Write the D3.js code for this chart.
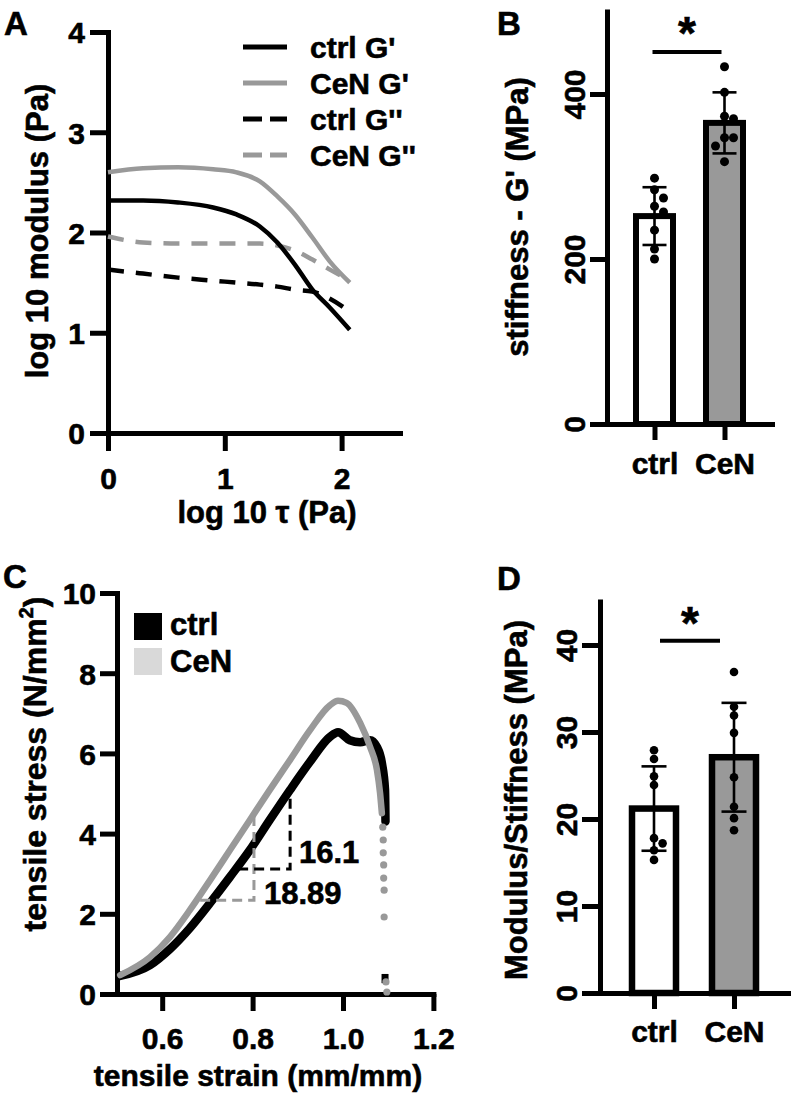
<!DOCTYPE html>
<html><head><meta charset="utf-8">
<script src="https://cdn.jsdelivr.net/npm/d3@7"></script>
<style>
body{margin:0;background:#fff}
svg{display:block}
</style></head><body>
<svg id="fig" width="792" height="1103"></svg>
<script>
// ---------------- DATA ----------------
// Panel A: rheology (log10 tau vs log10 modulus)
const tauA      = [0, 0.3, 0.6, 0.9, 1.1, 1.3, 1.45, 1.6, 1.75, 1.9, 2.07];
const ctrlGp    = [2.32, 2.32, 2.30, 2.25, 2.18, 2.06, 1.90, 1.68, 1.43, 1.25, 1.03];
const cenGp     = [2.60, 2.64, 2.65, 2.63, 2.60, 2.51, 2.36, 2.18, 1.95, 1.71, 1.50];
const ctrlGpp   = [1.63, 1.59, 1.55, 1.52, 1.50, 1.48, 1.46, 1.43, 1.41, 1.34, 1.21];
const cenGpp    = [1.96, 1.90, 1.89, 1.89, 1.89, 1.89, 1.87, 1.82, 1.73, 1.63, 1.52];
const seriesA   = ["ctrl G'", "CeN G'", "ctrl G''", "CeN G''"];
const ticksAy   = [0, 1, 2, 3, 4];
const ticksAx   = [0, 1, 2];

// Panel B: stiffness G' (MPa)
const cats      = ["ctrl", "CeN"];
const bMeans    = [252, 365];
const bSD       = [35, 37];
const bCtrlPts  = [298, 284, 274, 264, 257, 235, 212, 200];
const bCeNPts   = [433, 402, 373, 370, 347, 347, 337, 318];
const ticksBy   = [0, 200, 400];
const sigB      = 451;

// Panel C: tensile stress-strain
const ctrlStrain = [0.507, 0.573, 0.617, 0.661, 0.706, 0.75, 0.794, 0.838, 0.883, 0.927, 0.971, 0.989, 1.015, 1.038, 1.06, 1.075, 1.086, 1.093, 1.094];
const ctrlStress = [0.45, 0.72, 1.12, 1.64, 2.27, 2.92, 3.59, 4.34, 5.09, 5.79, 6.41, 6.53, 6.33, 6.28, 6.33, 6.16, 5.76, 5.09, 4.30];
const ctrlTailStrain = [1.093, 1.093];
const ctrlTailStress = [0.50, 0.27];
const cenStrain = [0.507, 0.573, 0.617, 0.661, 0.706, 0.75, 0.794, 0.838, 0.883, 0.927, 0.971, 0.989, 1.008, 1.038, 1.06, 1.075, 1.082, 1.086];
const cenStress = [0.47, 0.92, 1.42, 2.09, 2.84, 3.59, 4.34, 5.09, 5.84, 6.58, 7.20, 7.31, 7.26, 6.76, 6.16, 5.59, 5.01, 4.51];
const cenTailStrain = [1.088, 1.089, 1.089, 1.090, 1.090, 1.091, 1.091, 1.095, 1.097];
const cenTailStress = [4.16, 3.84, 3.52, 3.22, 2.89, 2.59, 1.92, 0.30, 0.05];
const slopeStrainCtrl = [0.768, 0.883];   // horizontal / vertical legs of slope triangle
const slopeStressCtrl = [3.12, 5.09];
const slopeStrainCeN  = [0.684, 0.803];
const slopeStressCeN  = [2.34, 4.46];
const slopeLabels     = ["16.1", "18.89"];
const ticksCx = [0.6, 0.8, 1.0, 1.2];
const ticksCy = [0, 2, 4, 6, 8, 10];

// Panel D: Modulus/Stiffness (MPa)
const dMeans   = [21.2, 27.1];
const dSD      = [4.85, 6.25];
const dCtrlPts = [27.9, 26.9, 24.9, 23.9, 17.8, 17.2, 16.4, 15.3];
const dCeNPts  = [36.9, 32.9, 31.9, 29.9, 24.8, 21.4, 20.1, 18.7];
const ticksDy  = [0, 10, 20, 30, 40];
const sigD     = 40.5;

// ---------------- DRAWING ----------------
const F = '"Liberation Sans", Arial, Helvetica, sans-serif';
const GRAY = "#999999";
const TS = 0.6; // text stroke to mimic heavy bold
const svg = d3.select("#fig");
svg.append("rect").attr("width",792).attr("height",1103).attr("fill","#fff");

function styleAxis(g, fs){
  g.attr("font-family", F).attr("font-size", fs).attr("font-weight","bold");
  g.select(".domain").attr("stroke","#000").attr("stroke-width",5).attr("stroke-linecap","square");
  g.selectAll(".tick line").attr("stroke","#000").attr("stroke-width",5);
  g.selectAll(".tick text").attr("fill","#000").attr("stroke","#000").attr("stroke-width",TS);
}
function txt(x, y, s, fs, anchor){
  return svg.append("text").attr("x",x).attr("y",y).attr("font-family",F).attr("font-weight","bold")
    .attr("font-size",fs).attr("text-anchor",anchor||"start").attr("fill","#000")
    .attr("stroke","#000").attr("stroke-width",TS).text(s);
}
function vlabel(x, y, s, fs){
  return svg.append("text").attr("transform",`translate(${x},${y}) rotate(-90)`).attr("font-family",F)
    .attr("font-weight","bold").attr("font-size",fs).attr("text-anchor","middle").attr("fill","#000")
    .attr("stroke","#000").attr("stroke-width",TS).text(s);
}
function swarm(vals, yS, r){
  const d = 2*r, placed = [], out = new Array(vals.length);
  const order = vals.map((v,i)=>i).sort((a,b)=>vals[b]-vals[a]);
  for (const i of order){
    const y = yS(vals[i]);
    for (const k of [0,1,-1,2,-2,3,-3]){
      const x = k*d;
      if (placed.every(p=>Math.hypot(p.x-x,p.y-y) >= d*0.95)){ out[i]={x,y}; placed.push({x,y}); break; }
    }
  }
  return out;
}

// Panel letters
txt(4, 35, "A", 33); txt(497, 35, "B", 33); txt(3, 588, "C", 33); txt(497, 590, "D", 33);

// ===== Panel A =====
const xA = d3.scaleLinear().domain([0,2.5]).range([108,400]);
const yA = d3.scaleLinear().domain([0,4]).range([433,32]);
const gAy = svg.append("g").attr("transform","translate(108,0)")
  .call(d3.axisLeft(yA).tickValues(ticksAy).tickSize(18).tickSizeOuter(0).tickPadding(5).tickFormat(d3.format("d")));
styleAxis(gAy, 30);
gAy.selectAll(".tick text").attr("dy", "0.36em");
const gAx = svg.append("g").attr("transform","translate(0,433)")
  .call(d3.axisBottom(xA).tickValues(ticksAx).tickSize(18).tickSizeOuter(0).tickPadding(17).tickFormat(d3.format("d")));
styleAxis(gAx, 30);
vlabel(48, 231, "log 10 modulus (Pa)", 31);
txt(267, 523, "log 10 τ (Pa)", 31, "middle");

const lineA = d3.line().x((d,i)=>xA(tauA[i])).y(d=>yA(d)).curve(d3.curveMonotoneX);
const aSeries = [
  {vals: cenGpp, color: GRAY, dash: "16,12"},
  {vals: ctrlGpp, color: "#000", dash: "16,12"},
  {vals: cenGp, color: GRAY, dash: null},
  {vals: ctrlGp, color: "#000", dash: null}
];
aSeries.forEach(s=>{
  svg.append("path").attr("d", lineA(s.vals)).attr("fill","none").attr("stroke", s.color)
    .attr("stroke-width", 4.5).attr("stroke-dasharray", s.dash);
});
const legA = [
  {name: seriesA[0], color:"#000", dash:null},
  {name: seriesA[1], color:GRAY, dash:null},
  {name: seriesA[2], color:"#000", dash:"19,8"},
  {name: seriesA[3], color:GRAY, dash:"19,8"}
];
legA.forEach((l,i)=>{
  const y = 47 + 36*i;
  svg.append("line").attr("x1",243).attr("x2",287).attr("y1",y).attr("y2",y)
    .attr("stroke",l.color).attr("stroke-width",5).attr("stroke-dasharray",l.dash);
  txt(310, y+11, l.name, 30);
});

// ===== Bar panels =====
function barPanel(opt){
  const x = d3.scalePoint().domain(cats).range([opt.x0, opt.x1]).padding(opt.pad);
  const y = d3.scaleLinear().domain([0, opt.ymax]).range([opt.y0, opt.ytop]);
  const gy = svg.append("g").attr("transform",`translate(${opt.x0},0)`)
    .call(d3.axisLeft(y).tickValues(opt.ticks).tickSize(opt.tick).tickSizeOuter(0).tickFormat(d3.format("d")));
  styleAxis(gy, 30);
  gy.selectAll(".tick text").attr("x", null).attr("dy", null).attr("text-anchor","middle")
    .attr("transform", `translate(${-opt.tick-opt.lblGap},0) rotate(-90)`);
  const gx = svg.append("g").attr("transform",`translate(0,${opt.y0})`)
    .call(d3.axisBottom(x).tickSize(16).tickSizeOuter(0).tickPadding(opt.xPad));
  styleAxis(gx, 30);
  cats.forEach((c,i)=>{
    const cx = x(c);
    svg.append("rect").attr("x", cx-opt.bw/2).attr("y", y(opt.means[i])).attr("width", opt.bw)
      .attr("height", y(0)-y(opt.means[i])).attr("fill", i===0 ? "#fff" : GRAY)
      .attr("stroke","#000").attr("stroke-width", opt.bs);
    const lo = y(opt.means[i]-opt.sd[i]), hi = y(opt.means[i]+opt.sd[i]);
    const eb = svg.append("g").attr("stroke","#000").attr("stroke-width",2.6);
    eb.append("line").attr("x1",cx).attr("x2",cx).attr("y1",lo).attr("y2",hi);
    eb.append("line").attr("x1",cx-opt.cap).attr("x2",cx+opt.cap).attr("y1",lo).attr("y2",lo);
    eb.append("line").attr("x1",cx-opt.cap).attr("x2",cx+opt.cap).attr("y1",hi).attr("y2",hi);
    const pts = swarm(opt.pts[i], y, opt.r);
    svg.append("g").selectAll("circle").data(pts).join("circle")
      .attr("cx", d=>cx+d.x).attr("cy", d=>d.y).attr("r", opt.r).attr("fill","#000");
  });
  const sy = y(opt.sig);
  svg.append("line").attr("x1", x(cats[0])+opt.sigIn[0]).attr("x2", x(cats[1])-opt.sigIn[1])
    .attr("y1", sy).attr("y2", sy).attr("stroke","#000").attr("stroke-width",4);
  txt((x(cats[0])+opt.sigIn[0]+x(cats[1])-opt.sigIn[1])/2, sy+opt.starDy, "*", 46, "middle");
}

barPanel({x0:607, x1:772, pad:0.6786, y0:424, ytop:11.5, ymax:500, ticks:ticksBy, tick:17, lblGap:5,
  xPad:13, means:bMeans, sd:bSD, pts:[bCtrlPts,bCeNPts], bw:37, bs:6, cap:12, r:4.5, sig:sigB,
  sigIn:[-2,3], starDy:-3});
vlabel(528, 217, "stiffness - G' (MPa)", 31);

barPanel({x0:600, x1:788, pad:0.675, y0:993, ytop:601.5, ymax:45, ticks:ticksDy, tick:18, lblGap:5,
  xPad:12, means:dMeans, sd:dSD, pts:[dCtrlPts,dCeNPts], bw:44, bs:6.5, cap:12.5, r:4.3, sig:sigD,
  sigIn:[6,14], starDy:-2});
vlabel(527, 800, "Modulus/Stiffness (MPa)", 31);

// ===== Panel C =====
const xC = d3.scaleLinear().domain([0.5,1.2]).range([117,433.4]);
const yC = d3.scaleLinear().domain([0,10]).range([994,593]);
const gCy = svg.append("g").attr("transform","translate(117,0)")
  .call(d3.axisLeft(yC).tickValues(ticksCy).tickSize(17).tickSizeOuter(0).tickPadding(4).tickFormat(d3.format("d")));
styleAxis(gCy, 30);
gCy.selectAll(".tick text").attr("dy","0.36em");
const gCx = svg.append("g").attr("transform","translate(0,994)")
  .call(d3.axisBottom(xC).tickValues(ticksCx).tickSize(17).tickSizeOuter(0).tickPadding(17).tickFormat(d3.format(".1f")));
styleAxis(gCx, 30);
txt(258, 1086, "tensile strain (mm/mm)", 30, "middle");
const cl = svg.append("text").attr("transform","translate(46,764) rotate(-90)").attr("font-family",F)
  .attr("font-weight","bold").attr("font-size",32).attr("text-anchor","middle").attr("fill","#000")
  .attr("stroke","#000").attr("stroke-width",TS);
cl.append("tspan").text("tensile stress (N/mm");
cl.append("tspan").attr("font-size",20).attr("dy",-13).text("2");
cl.append("tspan").attr("dy",13).text(")");

const lineC = d3.line().curve(d3.curveMonotoneX);
svg.append("path").attr("d", lineC(ctrlStrain.map((s,i)=>[xC(s), yC(ctrlStress[i])])))
  .attr("fill","none").attr("stroke","#000").attr("stroke-width",8.5).attr("stroke-linecap","round").attr("stroke-linejoin","round");
svg.append("path").attr("d", d3.line()(ctrlTailStrain.map((s,i)=>[xC(s), yC(ctrlTailStress[i])])))
  .attr("fill","none").attr("stroke","#000").attr("stroke-width",7);
svg.append("path").attr("d", lineC(cenStrain.map((s,i)=>[xC(s), yC(cenStress[i])])))
  .attr("fill","none").attr("stroke",GRAY).attr("stroke-width",6.5).attr("stroke-linecap","round").attr("stroke-linejoin","round");
svg.append("g").selectAll("circle").data(cenTailStrain).join("circle")
  .attr("cx",(d)=>xC(d)).attr("cy",(d,i)=>yC(cenTailStress[i])).attr("r",3.6).attr("fill",GRAY);

function slope(sx, sy, color, label, lx, ly){
  const p = `M${xC(sx[0])},${yC(sy[0])}H${xC(sx[1])}V${yC(sy[1])}`;
  svg.append("path").attr("d",p).attr("fill","none").attr("stroke",color).attr("stroke-width",3).attr("stroke-dasharray","10,6");
  txt(lx, ly, label, 31);
}
slope(slopeStrainCeN, slopeStressCeN, GRAY, slopeLabels[1], 264, 904);
slope(slopeStrainCtrl, slopeStressCtrl, "#000", slopeLabels[0], 299, 863);

svg.append("rect").attr("x",134).attr("y",613).attr("width",28).attr("height",27).attr("fill","#000");
svg.append("rect").attr("x",134).attr("y",648).attr("width",28).attr("height",27).attr("fill","#d9d9d9");
txt(170, 635, "ctrl", 31);
txt(170, 672, "CeN", 31);
</script>
</body></html>
